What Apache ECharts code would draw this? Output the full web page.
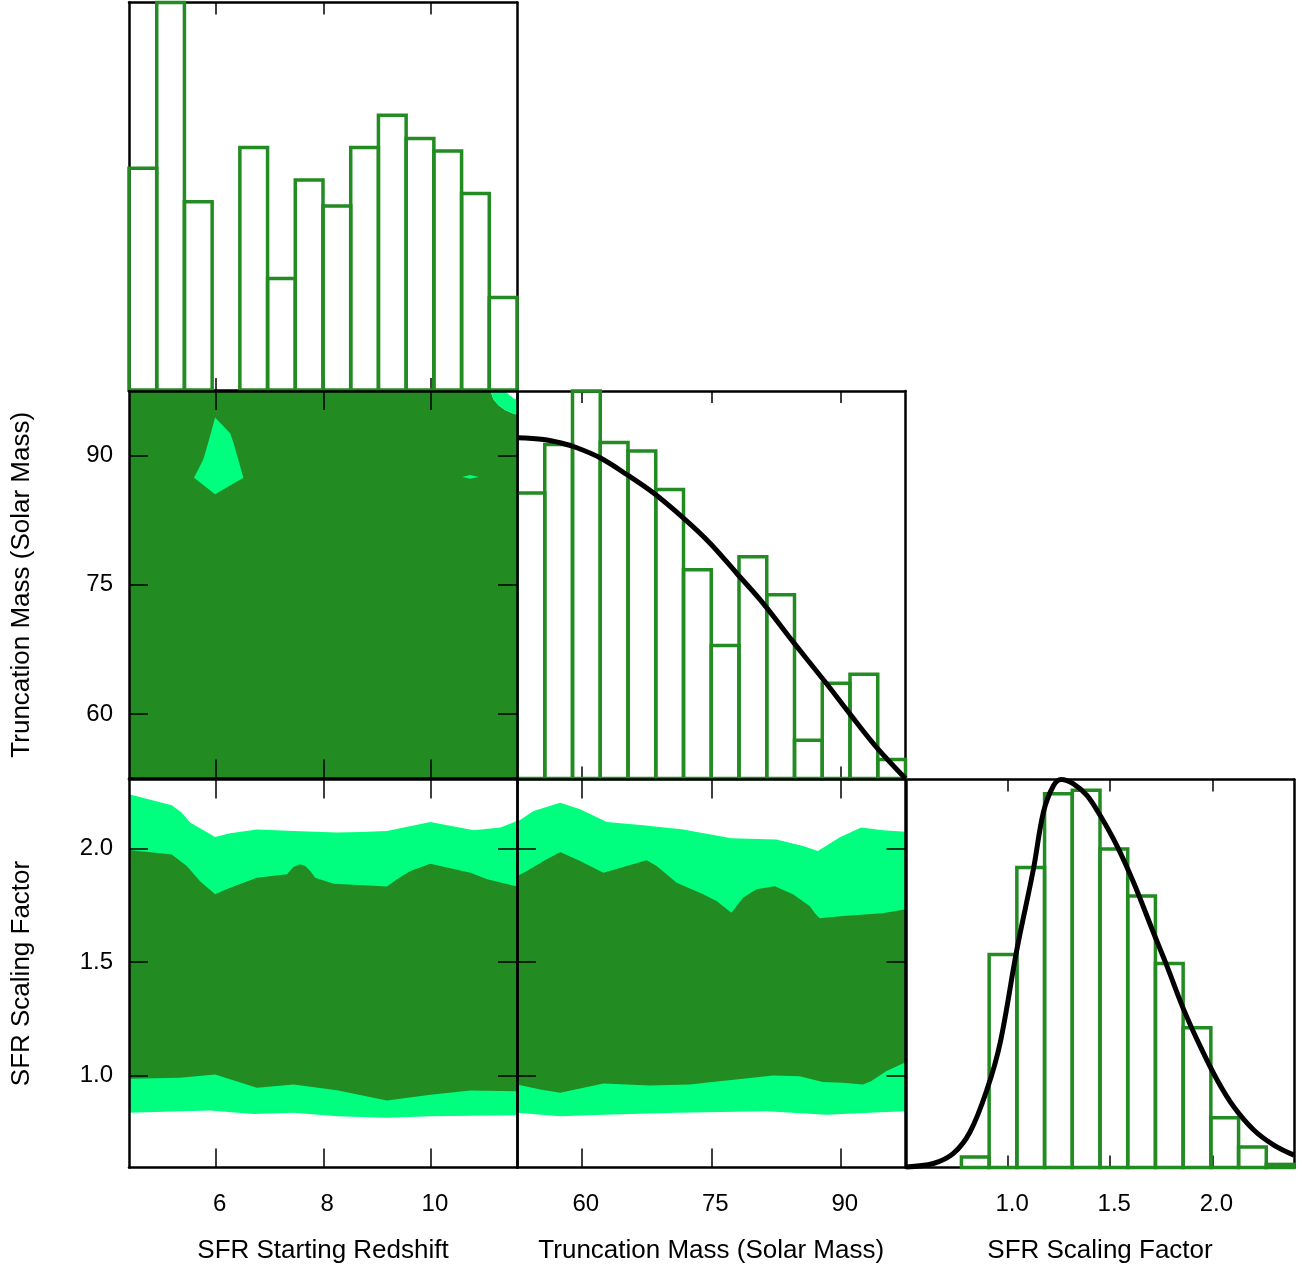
<!DOCTYPE html>
<html>
<head>
<meta charset="utf-8">
<title>Posterior corner plot</title>
<script src="https://cdn.jsdelivr.net/npm/echarts@6/dist/echarts.min.js"></script>
<style>
  html, body { margin: 0; padding: 0; background: #fff; }
  #chart { width: 1302px; height: 1268px; }
</style>
</head>
<body>
<div id="chart"></div>
<script>
// ---------- parameter axes ----------
const redshiftRange = [4.39, 11.6];
const massRange = [52.5, 97.5];
const scaleRange = [0.5, 2.4];        // horizontal axis of the scaling-factor histogram
const scaleRangeY = [0.595, 2.305];   // vertical axis of the bottom row

const redshiftTicks = [6, 8, 10];
const massTicks = [60, 75, 90];
const scaleTicks = [1.0, 1.5, 2.0];

const redshiftName = 'SFR Starting Redshift';
const massName = 'Truncation Mass (Solar Mass)';
const scaleName = 'SFR Scaling Factor';

// ---------- marginal histograms (14 equal bins across each axis range) ----------
const redshiftCounts = [57.2, 100, 48.6, 0, 62.6, 28.8, 54.2, 47.5, 62.6, 70.9, 64.9, 61.7, 50.7, 23.9];
const massCounts = [73.7, 86.2, 100, 86.7, 84.5, 74.6, 53.9, 34.3, 57.2, 47.4, 9.9, 24.6, 26.9, 4.9];
const scaleCounts = [0, 0, 2.7, 54.9, 77.3, 96.3, 97.2, 82.1, 70.0, 52.6, 36.0, 12.8, 5.3, 0.8];

// prior curves drawn over the histograms
const massPrior = [[52.5, 87.95], [55.58, 87.5], [57.5, 86.65], [59.43, 85.36], [62.12, 82.77], [65.21, 78.45],
  [68.28, 73.72], [71.75, 67.25], [74.83, 60.79], [77.92, 53.03], [80.99, 45.27], [84.46, 35.33],
  [88.32, 24.57], [91.01, 16.81], [94.1, 8.17], [97.5, 0]];
const scalePrior = [[0.5, 0.16], [0.634, 1.03], [0.732, 3.62], [0.814, 9.21], [0.896, 20.0], [0.961, 32.1],
  [1.043, 56.2], [1.124, 76.9], [1.173, 91.6], [1.222, 98.4], [1.26, 100], [1.32, 98.9], [1.386, 95.9],
  [1.451, 90.7], [1.533, 82.9], [1.614, 73.5], [1.712, 60.5], [1.778, 51.9], [1.86, 40.7], [1.941, 31.2],
  [2.023, 22.6], [2.104, 15.7], [2.203, 9.65], [2.301, 5.77], [2.4, 3.18]];

// ---------- credible regions: Truncation Mass vs SFR Starting Redshift ----------
const zmInner = [[4.39, 52.5], [11.6, 52.5], [11.6, 94.74], [11.516, 94.91], [11.385, 95.26], [11.255, 95.84],
  [11.162, 96.54], [11.106, 97.5], [4.39, 97.5]];
const zmOuterCorner = [[11.106, 97.5], [11.162, 96.54], [11.255, 95.84], [11.385, 95.26], [11.516, 94.91],
  [11.6, 94.74], [11.6, 96.48], [11.535, 96.65], [11.46, 97.0], [11.385, 97.5]];
const zmIslandA = [[5.99, 94.41], [6.269, 92.59], [6.33, 91.51], [6.516, 87.44], [5.99, 85.5], [5.599, 87.44],
  [5.772, 89.57], [5.897, 92.27]];
const zmIslandB = [[10.58, 87.5], [10.73, 87.75], [10.89, 87.52], [10.73, 87.32]];

// ---------- credible regions: SFR Scaling Factor vs SFR Starting Redshift ----------
const zsOuterTop = [[4.39, 2.240], [5.184, 2.191], [5.37, 2.159], [5.525, 2.115], [5.99, 2.052], [6.269, 2.068],
  [6.765, 2.085], [7.447, 2.078], [8.254, 2.071], [8.688, 2.074], [9.184, 2.078], [9.99, 2.118],
  [10.796, 2.081], [11.292, 2.093], [11.6, 2.122]];
const zsOuterBottom = [[4.39, 0.836], [5.897, 0.846], [6.703, 0.831], [7.447, 0.836], [8.254, 0.821],
  [9.184, 0.814], [9.99, 0.821], [11.6, 0.825]];
const zsInnerTop = [[4.39, 1.994], [5.184, 1.975], [5.463, 1.924], [5.711, 1.857], [5.99, 1.799], [6.269, 1.828],
  [6.765, 1.872], [7.324, 1.887], [7.447, 1.919], [7.571, 1.931], [7.665, 1.924], [7.758, 1.902],
  [7.85, 1.872], [8.191, 1.846], [9.184, 1.833], [9.37, 1.865], [9.618, 1.902], [9.99, 1.934],
  [10.734, 1.894], [11.045, 1.865], [11.6, 1.833]];
const zsInnerBottom = [[4.39, 0.986], [5.339, 0.991], [5.99, 1.005], [6.765, 0.946], [7.447, 0.961],
  [8.254, 0.935], [9.184, 0.890], [9.99, 0.916], [10.734, 0.934], [11.6, 0.931]];

// ---------- credible regions: SFR Scaling Factor vs Truncation Mass ----------
const msOuterTop = [[52.5, 2.118], [54.42, 2.166], [57.5, 2.203], [59.81, 2.174], [62.9, 2.118], [67.13, 2.103],
  [71.75, 2.085], [77.34, 2.046], [82.54, 2.041], [85.62, 2.012], [87.35, 1.990], [89.85, 2.049],
  [92.36, 2.093], [94.86, 2.081], [97.5, 2.075]];
const msOuterBottom = [[52.5, 0.836], [57.5, 0.821], [62.51, 0.828], [70.99, 0.836], [81.39, 0.843],
  [88.32, 0.828], [93.32, 0.836], [97.5, 0.843]];
const msInnerTop = [[52.5, 1.879], [53.65, 1.902], [55.58, 1.946], [57.5, 1.985], [59.81, 1.946], [62.51, 1.894],
  [65.21, 1.924], [67.52, 1.949], [68.68, 1.924], [70.99, 1.850], [74.06, 1.799], [75.61, 1.769],
  [77.34, 1.718], [78.68, 1.784], [80.23, 1.821], [82.34, 1.835], [84.46, 1.799], [86.39, 1.747],
  [86.97, 1.718], [87.54, 1.693], [90.24, 1.703], [94.86, 1.715], [97.5, 1.733]];
const msInnerBottom = [[52.5, 0.961], [55.19, 0.939], [57.5, 0.924], [62.51, 0.965], [67.9, 0.956],
  [72.52, 0.961], [74.83, 0.971], [78.68, 0.986], [82.15, 1.0], [85.23, 0.997], [87.93, 0.972],
  [90.24, 0.968], [92.55, 0.961], [93.51, 0.975], [95.25, 1.019], [97.5, 1.059]];

// ---------- styling ----------
const FONT = '"Liberation Sans", Arial, Helvetica, sans-serif';
const GREEN = '#228b22';
const LIGHT = '#00ff7f';
const TICK_FS = 24;
const NAME_FS = 26;

// panel boxes: [row][col]
const colLeft = [129, 517, 906];
const colWidth = [388, 388.5, 388];
const rowTop = [2.5, 391, 779.5];
const rowHeight = [387.5, 387.5, 388];

const panels = [
  { row: 0, col: 0, kind: 'hist' },
  { row: 1, col: 0, kind: 'region' },
  { row: 1, col: 1, kind: 'hist' },
  { row: 2, col: 0, kind: 'region' },
  { row: 2, col: 1, kind: 'region' },
  { row: 2, col: 2, kind: 'hist' }
];

const grids = panels.map(p => ({
  left: colLeft[p.col], top: rowTop[p.row], width: colWidth[p.col], height: rowHeight[p.row],
  show: false
}));

function fmt(dec) { return v => dec ? v.toFixed(dec) : String(v); }

function baseAxis(gridIndex, position, range, ticks, tickLen, z) {
  return {
    type: 'value', gridIndex, position, min: range[0], max: range[1], z,
    splitLine: { show: false },
    axisLine: { show: true, onZero: false, lineStyle: { color: '#000', width: 2.5 } },
    axisTick: ticks
      ? { show: true, inside: true, length: tickLen, customValues: ticks, lineStyle: { color: '#000', width: 1.5 } }
      : { show: false },
    axisLabel: { show: false }
  };
}

function withLabels(axis, ticks, dec, opts) {
  axis.axisLabel = Object.assign({
    show: true, customValues: ticks, formatter: fmt(dec),
    color: '#000', fontSize: TICK_FS, fontFamily: FONT
  }, opts);
  return axis;
}

function withName(axis, name, opts) {
  return Object.assign(axis, {
    name, nameLocation: 'middle', nameMoveOverlap: false,
    nameTextStyle: { color: '#000', fontSize: NAME_FS, fontFamily: FONT }
  }, opts);
}

const colAxis = [
  { range: redshiftRange, ticks: redshiftTicks, dec: 0, name: redshiftName },
  { range: massRange, ticks: massTicks, dec: 0, name: massName },
  { range: scaleRange, ticks: scaleTicks, dec: 1, name: scaleName }
];
const rowAxis = [
  null,
  { range: massRange, ticks: massTicks, dec: 0, name: massName },
  { range: scaleRangeY, ticks: scaleTicks, dec: 1, name: scaleName }
];

const xAxes = [];
const yAxes = [];
panels.forEach((p, g) => {
  const isHist = p.kind === 'hist';
  const tickLen = isHist ? 12 : 19;
  const z = isHist ? 0 : 4;
  const cx = colAxis[p.col];
  const bottom = baseAxis(g, 'bottom', cx.range, cx.ticks, tickLen, z);
  if (p.row === 2) {
    withLabels(bottom, cx.ticks, cx.dec, { margin: 25, padding: [0, 0, 0, 8] });
    withName(bottom, cx.name, { nameGap: 70 });
  }
  xAxes.push(bottom, baseAxis(g, 'top', cx.range, cx.ticks, tickLen, z));

  if (isHist) {
    yAxes.push(baseAxis(g, 'left', [0, 100], null, 0, z), baseAxis(g, 'right', [0, 100], null, 0, z));
  } else {
    const yr = rowAxis[p.row];
    const left = baseAxis(g, 'left', yr.range, yr.ticks, tickLen, z);
    if (p.col === 0) {
      withLabels(left, yr.ticks, yr.dec, { margin: 16 });
      withName(left, yr.name, { nameGap: 94, nameRotate: 90 });
    }
    yAxes.push(left, baseAxis(g, 'right', yr.range, yr.ticks, tickLen, z));
  }
});

function histogram(g, range, counts) {
  const w = (range[1] - range[0]) / counts.length;
  const data = counts.map((c, i) => [range[0] + i * w, range[0] + (i + 1) * w, c]);
  return {
    type: 'custom', xAxisIndex: 2 * g, yAxisIndex: 2 * g, z: 2, clip: false, silent: true,
    data,
    renderItem(params, api) {
      const h = api.value(2);
      if (!h) return { type: 'group', children: [] };
      const a = api.coord([api.value(0), 0]);
      const b = api.coord([api.value(1), h]);
      return {
        type: 'rect',
        shape: { x: a[0], y: b[1], width: b[0] - a[0], height: a[1] - b[1] },
        style: { fill: 'none', stroke: GREEN, lineWidth: 3.5 }
      };
    }
  };
}

function curve(g, pts) {
  return {
    type: 'line', xAxisIndex: 2 * g, yAxisIndex: 2 * g, z: 3, clip: false, silent: true,
    data: pts, smooth: 0.35, showSymbol: false, symbol: 'none',
    lineStyle: { color: '#000', width: 5 }
  };
}

function regions(g, polys) {
  return {
    type: 'custom', xAxisIndex: 2 * g, yAxisIndex: 2 * g, z: 1, clip: true, silent: true,
    data: polys.map((p, i) => i),
    renderItem(params, api) {
      const p = polys[params.dataIndex];
      return {
        type: 'polygon',
        shape: { points: p.pts.map(v => api.coord(v)) },
        style: { fill: p.color, stroke: null }
      };
    }
  };
}

function band(top, bottom) { return top.concat(bottom.slice().reverse()); }

const series = [
  histogram(0, redshiftRange, redshiftCounts),
  regions(1, [
    { pts: zmInner, color: GREEN },
    { pts: zmOuterCorner, color: LIGHT },
    { pts: zmIslandA, color: LIGHT },
    { pts: zmIslandB, color: LIGHT }
  ]),
  histogram(2, massRange, massCounts),
  curve(2, massPrior),
  regions(3, [
    { pts: band(zsOuterTop, zsOuterBottom), color: LIGHT },
    { pts: band(zsInnerTop, zsInnerBottom), color: GREEN }
  ]),
  regions(4, [
    { pts: band(msOuterTop, msOuterBottom), color: LIGHT },
    { pts: band(msInnerTop, msInnerBottom), color: GREEN }
  ]),
  histogram(5, scaleRange, scaleCounts),
  curve(5, scalePrior)
];

const chart = echarts.init(document.getElementById('chart'), null, { renderer: 'canvas' });
chart.setOption({
  animation: false,
  backgroundColor: '#fff',
  textStyle: { fontFamily: FONT },
  grid: grids,
  xAxis: xAxes,
  yAxis: yAxes,
  series
});
</script>
</body>
</html>
